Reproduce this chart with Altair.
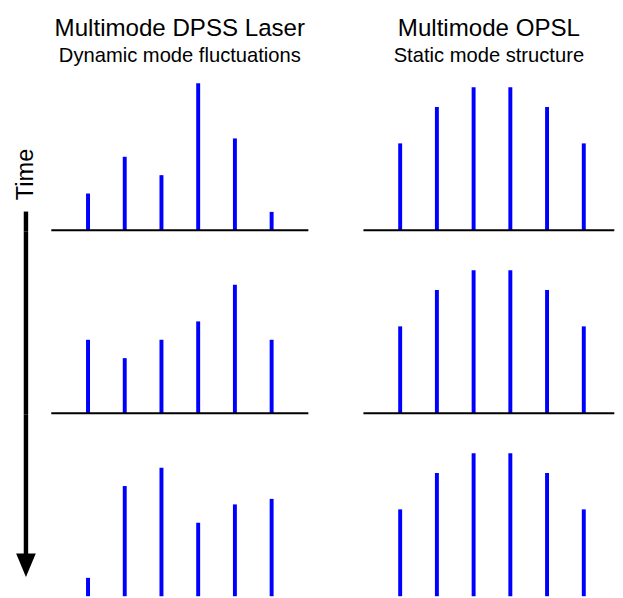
import altair as alt
import pandas as pd

# ---- data ----
modes = [1, 2, 3, 4, 5, 6]
dpss_t1 = [2, 4, 3, 8, 5, 1]
dpss_t2 = [4, 3, 4, 5, 7, 4]
dpss_t3 = [1, 6, 7, 4, 5, 5.3]
opsl_t1 = [4.73, 6.71, 7.79, 7.79, 6.71, 4.73]
opsl_t2 = [4.73, 6.71, 7.79, 7.79, 6.71, 4.73]
opsl_t3 = [4.73, 6.71, 7.79, 7.79, 6.71, 4.73]

left_title = "Multimode DPSS Laser"
left_subtitle = "Dynamic mode fluctuations"
right_title = "Multimode OPSL"
right_subtitle = "Static mode structure"
time_label = "Time"

# ---- style / geometry ----
FONT = "Liberation Sans"
BLUE = "#0000ff"
W = 261.3
XU = W / 7
WR = 255.0
UNIT = 18.667
H = [155.0, 186.0, 188.0]      # panel heights
Z = [154.0, 185.0, 185.0]      # pixel row (inside each panel) where value 0 sits
SHOW_BASE = [True, True, False]  # bottom row's baseline lies below the visible frame
ONE = alt.Data(values=[{}])


def rect(x1, x2, y1, y2, **kw):
    return alt.Chart(ONE).mark_rect(**kw).encode(
        x=alt.value(x1), x2=alt.value(x2), y=alt.value(y1), y2=alt.value(y2)
    )


def panel(values, h, z, w, show_base, extra=(), title=None):
    df = pd.DataFrame({"mode": modes, "value": values})
    x = alt.X("mode:Q", scale=alt.Scale(domain=[0, w / XU], nice=False, zero=False, padding=0), axis=None)
    y = alt.Y(
        "value:Q",
        scale=alt.Scale(domain=[-(h - z) / UNIT, z / UNIT], nice=False, zero=False, padding=0),
        axis=None,
    )
    bars = alt.Chart(df).mark_bar(size=4, color=BLUE).encode(x=x, y=y, y2=alt.datum(0))
    layers = [bars]
    if show_base:
        layers.append(rect(0, w, h - 2, h, color="black"))
    else:
        layers.append(rect(0, w, h - 1, h, opacity=0))
    ch = alt.layer(*layers, *extra).properties(width=w, height=h)
    if title is not None:
        ch = ch.properties(title=title)
    return ch


def make_title(t, s):
    return alt.Title(
        t, subtitle=s, font=FONT, fontSize=24.5, fontWeight="normal", color="black",
        subtitleFont=FONT, subtitleFontSize=20.5, subtitleColor="black",
        subtitlePadding=5.2, anchor="middle", frame="group", offset=11.5,
    )


def anchor(h):
    return rect(-43.3, -42.3, h / 2, h / 2 + 1, opacity=0)


SX1, SX2 = -28.0, -23.5

row1_extra = [
    anchor(H[0]),
    rect(SX1, SX2, H[0] - 20, H[0], color="black"),
    alt.Chart(ONE).mark_text(
        text=time_label, angle=270, fontSize=24, font=FONT, baseline="alphabetic",
        align="center", color="black",
    ).encode(x=alt.value(-18.3), y=alt.value(H[0] - 57.7)),
]
row2_extra = [anchor(H[1]), rect(SX1, SX2, 0, H[1], color="black")]
row3_extra = [
    anchor(H[2]),
    rect(SX1, SX2, 0, 143, color="black"),
    alt.Chart(ONE).mark_point(
        shape="M-1,-1.2L1,-1.2L0,1.2Z", size=400, filled=True, color="black",
        opacity=1, strokeWidth=0,
    ).encode(x=alt.value(-25.75), y=alt.value(153.5)),
]

row1 = alt.hconcat(
    panel(dpss_t1, H[0], Z[0], W, SHOW_BASE[0], row1_extra, make_title(left_title, left_subtitle)),
    panel(opsl_t1, H[0], Z[0], WR, SHOW_BASE[0], (), make_title(right_title, right_subtitle)),
    spacing=55.3,
)
row2 = alt.hconcat(
    panel(dpss_t2, H[1], Z[1], W, SHOW_BASE[1], row2_extra),
    panel(opsl_t2, H[1], Z[1], WR, SHOW_BASE[1]),
    spacing=55.3,
)
row3 = alt.hconcat(
    panel(dpss_t3, H[2], Z[2], W, SHOW_BASE[2], row3_extra),
    panel(opsl_t3, H[2], Z[2], WR, SHOW_BASE[2]),
    spacing=55.3,
)

chart = (
    alt.vconcat(row1, row2, row3, spacing=0)
    .properties(
        padding={"left": 0, "top": 3, "right": 0, "bottom": 0},
        background="white",
    )
    .configure_view(stroke=None)
)

chart.save("out.html", embed_options={"renderer": "svg", "actions": False})
